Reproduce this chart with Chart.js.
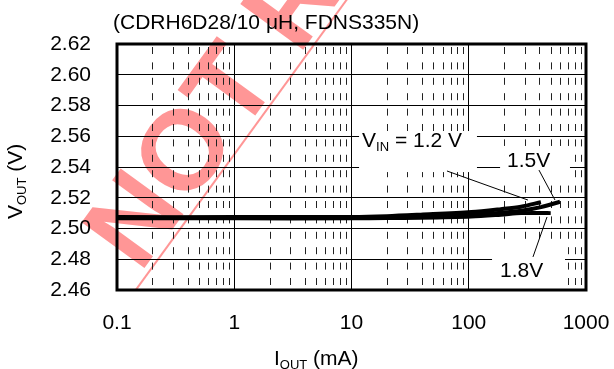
<!DOCTYPE html>
<html><head><meta charset="utf-8">
<script src="https://cdn.jsdelivr.net/npm/chart.js@4"></script>
<style>html,body{margin:0;padding:0;background:#fff}canvas{display:block}</style>
</head><body>
<canvas id="c" width="614" height="369"></canvas>
<script>
// ---- data ----
const xTickValues = [0.1, 1, 10, 100, 1000];
const yTickLabels = ['2.46','2.48','2.50','2.52','2.54','2.56','2.58','2.60','2.62'];
const iout12 = [0.1, 1, 10, 20, 39, 105, 188, 279, 413];
const vout12 = [2.5074, 2.5074, 2.5075, 2.5080, 2.5090, 2.5107, 2.5126, 2.5142, 2.5171];
const iout15 = [0.1, 1, 10, 20, 39, 105, 188, 279, 413, 600];
const vout15 = [2.5070, 2.5070, 2.5071, 2.5074, 2.5078, 2.5090, 2.5103, 2.5116, 2.5139, 2.5174];
const iout18 = [0.1, 1, 10, 20, 39, 105, 188, 279, 400, 500];
const vout18 = [2.5066, 2.5066, 2.5066, 2.5068, 2.5070, 2.5078, 2.5090, 2.5100, 2.5101, 2.5100];
const seriesNames = ['VIN = 1.2 V', '1.5V', '1.8V'];
// annotations in data units: text anchor, white box, leader line
const annText = [[212, 2.5400], [185, 2.4685], [12.3, 2.5530]];
const annBoxes = [[185, 730, 2.5537, 2.5315], [158, 662, 2.4900, 2.4600], [11.6, 117.5, 2.5634, 2.5367]];
const annLeaders = [[[397, 2.5380], [544, 2.5185]], [[353, 2.4815], [465, 2.5075]], [[65.2, 2.5374], [320, 2.5185]]];

const FONT = '"Liberation Sans", Arial, sans-serif';
const pts = (xs, ys) => xs.map((x, i) => ({x, y: ys[i]}));

const overlay = {
  id: 'overlay',
  beforeDraw(chart) {
    const ctx = chart.ctx;
    ctx.save();
    ctx.fillStyle = '#fff';
    ctx.fillRect(0, 0, chart.width, chart.height);
    // watermark
    ctx.fillStyle = 'rgb(255,150,150)';
    ctx.strokeStyle = 'rgb(255,150,150)';
    ctx.translate(140, 274);
    ctx.rotate(-54 * Math.PI / 180);
    ctx.font = 'bold 113px ' + FONT;
    ctx.textBaseline = 'alphabetic';
    ctx.fillText('NOT RECOMMENDED', 0, 0);
    ctx.lineWidth = 2;
    ctx.beginPath();
    ctx.moveTo(-15, 6); ctx.lineTo(700, 6);
    ctx.stroke();
    ctx.restore();
  },
  beforeDatasetsDraw(chart) {
    const {ctx, chartArea: a, scales: {x, y}} = chart;
    ctx.save();
    ctx.strokeStyle = '#222';
    ctx.lineWidth = 1;
    ctx.setLineDash([7, 8.4]);
    ctx.lineDashOffset = -3;
    for (let d = 0; d < xTickValues.length - 1; d++) {
      for (let k = 2; k <= 9; k++) {
        const px = Math.round(x.getPixelForValue(xTickValues[d] * k)) + 0.5;
        ctx.beginPath();
        ctx.moveTo(px, a.top);
        ctx.lineTo(px, a.bottom);
        ctx.stroke();
      }
    }
    ctx.setLineDash([]);
    ctx.fillStyle = '#fff';
    annBoxes.forEach(b => {
      const x0 = x.getPixelForValue(b[0]), x1 = x.getPixelForValue(b[1]);
      const y0 = y.getPixelForValue(b[2]), y1 = y.getPixelForValue(b[3]);
      ctx.fillRect(x0, y0, x1 - x0, y1 - y0);
    });
    ctx.restore();
  },
  afterDraw(chart) {
    const {ctx, chartArea: a, scales: {x, y}} = chart;
    ctx.save();
    // frame
    ctx.strokeStyle = '#000';
    ctx.lineWidth = 3;
    ctx.strokeRect(a.left, a.top, a.right - a.left, a.bottom - a.top);
    // leaders
    ctx.lineWidth = 1;
    annLeaders.forEach(l => {
      ctx.beginPath();
      ctx.moveTo(x.getPixelForValue(l[0][0]), y.getPixelForValue(l[0][1]));
      ctx.lineTo(x.getPixelForValue(l[1][0]), y.getPixelForValue(l[1][1]));
      ctx.stroke();
    });
    ctx.fillStyle = '#000';
    ctx.textBaseline = 'alphabetic';
    ctx.textAlign = 'left';
    const big = '21px ' + FONT, small = '13px ' + FONT;
    // series labels
    ctx.font = big;
    ctx.fillText(seriesNames[1], x.getPixelForValue(annText[0][0]), y.getPixelForValue(annText[0][1]));
    ctx.fillText(seriesNames[2], x.getPixelForValue(annText[1][0]), y.getPixelForValue(annText[1][1]));
    let px = x.getPixelForValue(annText[2][0]), py = y.getPixelForValue(annText[2][1]);
    ctx.fillText('V', px, py); px += ctx.measureText('V').width;
    ctx.font = small; ctx.fillText('IN', px, py + 4); px += ctx.measureText('IN').width;
    ctx.font = big; ctx.fillText(' = 1.2 V', px, py);
    // chart title
    ctx.fillText('(CDRH6D28/10 \u03BCH, FDNS335N)', a.left - 4, 29);
    // x title
    px = 274; py = 365;
    ctx.fillText('I', px, py); px += ctx.measureText('I').width;
    ctx.font = small; ctx.fillText('OUT', px, py + 4); px += ctx.measureText('OUT').width;
    ctx.font = big; ctx.fillText(' (mA)', px, py);
    // y title
    ctx.translate(22, 219);
    ctx.rotate(-Math.PI / 2);
    px = 0; py = 0;
    ctx.fillText('V', px, py); px += ctx.measureText('V').width;
    ctx.font = small; ctx.fillText('OUT', px, py + 4); px += ctx.measureText('OUT').width;
    ctx.font = big; ctx.fillText(' (V)', px, py);
    ctx.restore();
  }
};

const lineDs = (label, data) => ({
  label, data, borderColor: '#000', backgroundColor: '#000',
  borderWidth: 4, pointRadius: 0, tension: 0.3, fill: false,
  borderCapStyle: 'butt'
});

new Chart(document.getElementById('c'), {
  type: 'line',
  data: {
    datasets: [
      lineDs(seriesNames[2], pts(iout18, vout18)),
      lineDs(seriesNames[1], pts(iout15, vout15)),
      lineDs(seriesNames[0], pts(iout12, vout12))
    ]
  },
  options: {
    responsive: false,
    animation: false,
    devicePixelRatio: 1,
    layout: {padding: {left: 0, right: 28, top: 44, bottom: 0}},
    plugins: {legend: {display: false}, tooltip: {enabled: false}, title: {display: false}},
    scales: {
      x: {
        type: 'logarithmic', min: 0.1, max: 1000,
        afterBuildTicks: s => { s.ticks = xTickValues.map(v => ({value: v})); },
        afterFit: s => { s.height = 79; s.paddingLeft = 0; s.paddingRight = 0; },
        ticks: {
          color: '#000', font: {family: FONT, size: 21}, padding: 21, maxRotation: 0,
          callback: v => String(v)
        },
        grid: {color: '#000', lineWidth: 1, drawTicks: false},
        border: {display: false}
      },
      y: {
        type: 'linear', min: 2.46, max: 2.62,
        afterBuildTicks: s => { s.ticks = yTickLabels.map(t => ({value: parseFloat(t)})); },
        afterFit: s => { s.width = 117; s.paddingTop = 0; s.paddingBottom = 0; },
        ticks: {
          color: '#000', font: {family: FONT, size: 21}, padding: 26,
          callback: (v, i) => yTickLabels[i]
        },
        grid: {color: '#000', lineWidth: 1, drawTicks: false},
        border: {display: false}
      }
    }
  },
  plugins: [overlay]
});
</script>
</body></html>
